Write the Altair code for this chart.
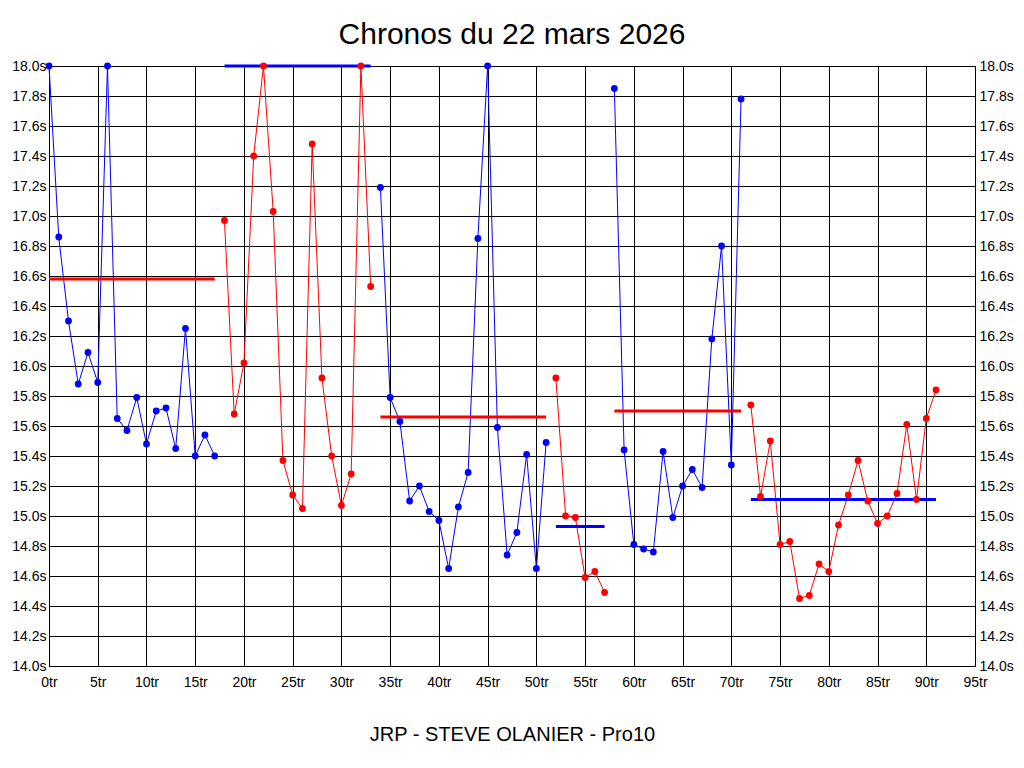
import altair as alt
import pandas as pd

# ---- data ----
seg_start = [0, 18, 34, 52, 58, 72]
seg_color = ["#0000FF", "#FF0000", "#0000FF", "#FF0000", "#0000FF", "#FF0000"]

seg1_times = [18.0, 16.86, 16.30, 15.88, 16.09, 15.89, 18.0, 15.65, 15.57, 15.79,
              15.48, 15.70, 15.72, 15.45, 16.25, 15.40, 15.54, 15.40]
seg2_times = [16.97, 15.68, 16.02, 17.40, 18.0, 17.03, 15.37, 15.14, 15.05, 17.48,
              15.92, 15.40, 15.07, 15.28, 18.0, 16.53]
seg3_times = [17.19, 15.79, 15.63, 15.10, 15.20, 15.03, 14.97, 14.65, 15.06, 15.29,
              16.85, 18.0, 15.59, 14.74, 14.89, 15.41, 14.65, 15.49]
seg4_times = [15.92, 15.00, 14.99, 14.59, 14.63, 14.49]
seg5_times = [17.85, 15.44, 14.81, 14.78, 14.76, 15.43, 14.99, 15.20, 15.31, 15.19,
              16.18, 16.80, 15.34, 17.78]
seg6_times = [15.74, 15.13, 15.50, 14.81, 14.83, 14.45, 14.47, 14.68, 14.63, 14.94,
              15.14, 15.37, 15.10, 14.95, 15.00, 15.15, 15.61, 15.11, 15.65, 15.84]

avg_values = [16.58, 18.0, 15.66, 14.93, 15.70, 15.11]
avg_color = ["#FF0000", "#0000FF", "#FF0000", "#0000FF", "#FF0000", "#0000FF"]

x_ticks = [0, 5, 10, 15, 20, 25, 30, 35, 40, 45, 50, 55, 60, 65, 70, 75, 80, 85, 90, 95]
y_ticks = [14.0, 14.2, 14.4, 14.6, 14.8, 15.0, 15.2, 15.4, 15.6, 15.8, 16.0,
           16.2, 16.4, 16.6, 16.8, 17.0, 17.2, 17.4, 17.6, 17.8, 18.0]

title_text = "Chronos du 22 mars 2026"
footer_text = "JRP - STEVE OLANIER - Pro10"

# ---- build tables ----
all_segs = [seg1_times, seg2_times, seg3_times, seg4_times, seg5_times, seg6_times]
rows = []
for i, (s, ts) in enumerate(zip(seg_start, all_segs)):
    for j, t in enumerate(ts):
        rows.append({"lap": s + j, "time": t, "seg": i, "color": seg_color[i]})
df = pd.DataFrame(rows)

avg_df = pd.DataFrame({
    "start": seg_start,
    "end": [s + len(ts) - 1 for s, ts in zip(seg_start, all_segs)],
    "avg": avg_values,
    "color": avg_color,
})

FONT = "Liberation Sans"
x_scale = alt.Scale(domain=[0, 95], nice=False, zero=False)
y_scale = alt.Scale(domain=[14, 18], nice=False, zero=False)

x_axis = alt.Axis(values=x_ticks, labelExpr="datum.value + 'tr'", title=footer_text,
                  grid=True, gridColor="black", gridOpacity=1, gridWidth=1,
                  ticks=False, labelPadding=9, labelFont=FONT, labelFontSize=14,
                  labelColor="black", labelFlush=False, labelOverlap=False,
                  titleFont=FONT, titleFontSize=20, titleFontWeight="normal",
                  titleColor="black", titleBaseline="alphabetic", titleY=74,
                  domainColor="black")

def xenc(field):
    return alt.X(f"{field}:Q", scale=x_scale, axis=x_axis)

y_left = alt.Axis(values=y_ticks, labelExpr="format(datum.value, '.1f') + 's'",
                  orient="left", title=None, grid=True, gridColor="black",
                  gridOpacity=1, gridWidth=1, ticks=False, labelPadding=3,
                  labelFont=FONT, labelFontSize=14, labelColor="black",
                  labelFlush=False, labelOverlap=False, domainColor="black")
y_right = alt.Axis(values=y_ticks, labelExpr="format(datum.value, '.1f') + 's'",
                   orient="right", title=None, grid=False, ticks=False,
                   labelPadding=4, labelFont=FONT, labelFontSize=14,
                   labelColor="black", labelFlush=False, labelOverlap=False,
                   domainColor="black")

lines = alt.Chart(df).mark_line(strokeWidth=1).encode(
    x=xenc("lap"),
    y=alt.Y("time:Q", scale=y_scale, axis=y_left),
    detail="seg:N",
    color=alt.Color("color:N", scale=None),
)

rules = alt.Chart(avg_df).mark_rule(strokeWidth=3).encode(
    x=xenc("start"),
    x2="end:Q",
    y=alt.Y("avg:Q", scale=y_scale, axis=None),
    color=alt.Color("color:N", scale=None),
)

points = alt.Chart(df).mark_circle(size=46, opacity=1).encode(
    x=xenc("lap"),
    y=alt.Y("time:Q", scale=y_scale, axis=y_right),
    color=alt.Color("color:N", scale=None),
)

chart = alt.layer(lines, rules, points).resolve_axis(y="independent").properties(
    width=926,
    height=600,
    padding={"left": 41, "top": 58, "right": 41, "bottom": 88},
    autosize=alt.AutoSizeParams(type="none"),
    title=alt.TitleParams(title_text, font=FONT, fontSize=30, fontWeight="normal",
                          color="black", anchor="middle", baseline="alphabetic",
                          offset=21, dy=36),
    background="white",
).configure_view(stroke="black", strokeWidth=1)

chart.save("out.html", embed_options={"renderer": "svg", "actions": False})
